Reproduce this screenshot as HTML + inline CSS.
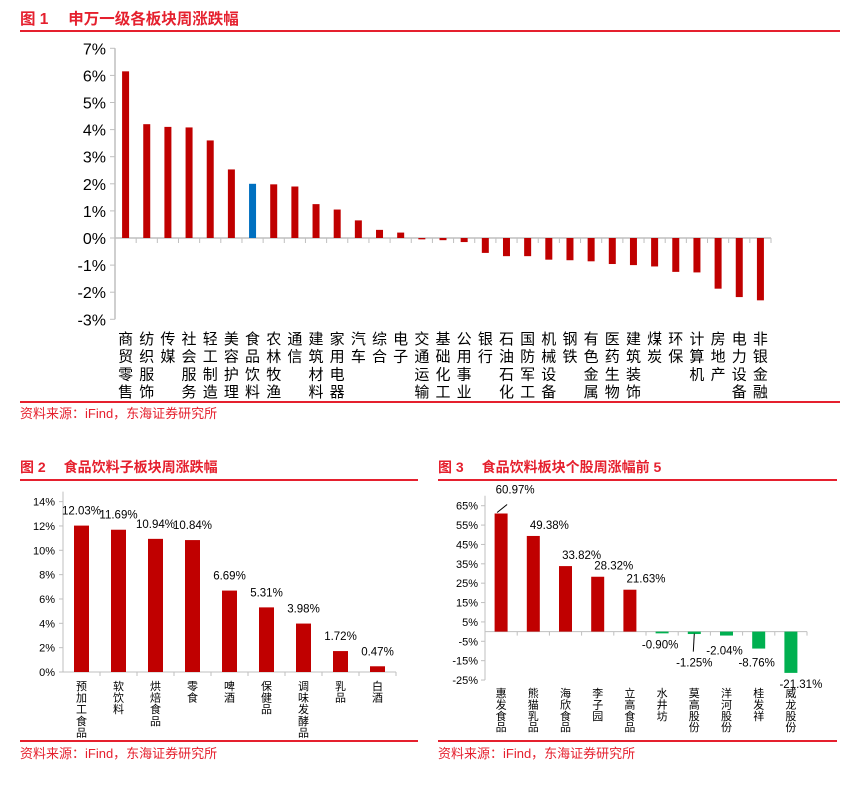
<!DOCTYPE html>
<html><head><meta charset="utf-8">
<style>
html,body{margin:0;padding:0;background:#fff;}
svg{display:block;font-family:"Liberation Sans","Noto Sans CJK SC",sans-serif;}
</style></head>
<body>
<svg id="s" width="861" height="789" viewBox="0 0 861 789" xmlns="http://www.w3.org/2000/svg">
<g>
<text x="20" y="24" font-size="15.5" font-weight="bold" fill="#E5202E">图 1　 申万一级各板块周涨跌幅</text>
<rect x="20" y="30" width="820" height="2" fill="#E5202E"/>
</g>
<rect x="20" y="401" width="820" height="2" fill="#E5202E"/>
<text x="20" y="418" font-size="13" fill="#E5202E">资料来源：iFind，东海证券研究所</text>

<text x="20" y="472" font-size="14" font-weight="bold" fill="#E5202E">图 2　 食品饮料子板块周涨跌幅</text>
<rect x="20" y="479" width="398" height="2" fill="#E5202E"/>
<rect x="20" y="740" width="398" height="2" fill="#E5202E"/>
<text x="20" y="758" font-size="13" fill="#E5202E">资料来源：iFind，东海证券研究所</text>

<text x="438" y="472" font-size="14" font-weight="bold" fill="#E5202E">图 3　 食品饮料板块个股周涨幅前 5</text>
<rect x="438" y="479" width="399" height="2" fill="#E5202E"/>
<rect x="438" y="740" width="399" height="2" fill="#E5202E"/>
<text x="438" y="758" font-size="13" fill="#E5202E">资料来源：iFind，东海证券研究所</text>
<g id="c1"></g>
<g id="c2"></g>
<g id="c3"></g>
</svg>
<script>
const c1Cats=["商贸零售","纺织服饰","传媒","社会服务","轻工制造","美容护理","食品饮料","农林牧渔","通信","建筑材料","家用电器","汽车","综合","电子","交通运输","基础化工","公用事业","银行","石油石化","国防军工","机械设备","钢铁","有色金属","医药生物","建筑装饰","煤炭","环保","计算机","房地产","电力设备","非银金融"];
const c1Vals=[6.15,4.2,4.1,4.08,3.6,2.53,2.0,1.98,1.9,1.25,1.05,0.65,0.3,0.2,-0.05,-0.08,-0.15,-0.55,-0.67,-0.67,-0.8,-0.82,-0.86,-0.96,-1.0,-1.05,-1.25,-1.27,-1.87,-2.18,-2.3];
const c1Ticks=[7,6,5,4,3,2,1,0,-1,-2,-3];
const c2Cats=["预加工食品","软饮料","烘焙食品","零食","啤酒","保健品","调味发酵品","乳品","白酒"];
const c2Vals=[12.03,11.69,10.94,10.84,6.69,5.31,3.98,1.72,0.47];
const c2Ticks=[0,2,4,6,8,10,12,14];
const c3Cats=["惠发食品","熊猫乳品","海欣食品","李子园","立高食品","水井坊","莫高股份","洋河股份","桂发祥","威龙股份"];
const c3Vals=[60.97,49.38,33.82,28.32,21.63,-0.90,-1.25,-2.04,-8.76,-21.31];
const c3Ticks=[65,55,45,35,25,15,5,-5,-15,-25];

const NS="http://www.w3.org/2000/svg";
function mk(p,tag,a){const e=document.createElementNS(NS,tag);for(const k in a)e.setAttribute(k,a[k]);p.appendChild(e);return e;}

// Chart 1
(function(){
const g=document.getElementById('c1');
const x0=115,x1=771,y0=238,pp=27.1;
const y=v=>y0-v*pp;
const bw=(x1-x0)/c1Cats.length;
mk(g,'line',{x1:x0,y1:y(7),x2:x0,y2:y(-3),stroke:'#bfbfbf','stroke-width':1.5});
c1Ticks.forEach(t=>{
 const l=mk(g,'line',{x1:x0-5,y1:y(t),x2:x0,y2:y(t),stroke:'#bfbfbf'});
 
 
 const tx=mk(g,'text',{x:x0-9,y:y(t)+6,'font-size':16,'text-anchor':'end',fill:'#000'});
 tx.textContent=t+'%';
 
 
});
mk(g,'line',{x1:x0,y1:y0,x2:x1,y2:y0,stroke:'#bfbfbf','stroke-width':1.5});
c1Cats.forEach((c,i)=>{
 const cx=x0+bw*(i+0.5),v=c1Vals[i];
 const tk=mk(g,'line',{x1:x0+bw*(i+1),y1:y0,x2:x0+bw*(i+1),y2:y0+5,stroke:'#bfbfbf'});
 
 
 const b=mk(g,'rect',{x:cx-3.5,y:Math.min(y(v),y0),width:7,height:Math.max(Math.abs(y(v)-y0),1),fill:c==='食品饮料'?'#0070C0':'#C00000'});
 
 
 [...c].forEach((ch,j)=>{
  const t=mk(g,'text',{x:cx,y:344+j*17.7,'font-size':15,'text-anchor':'middle',fill:'#000'});
  t.textContent=ch;
  
  
 });
});
})();

// Chart 2
(function(){
const g=document.getElementById('c2');
const x0=63,x1=396,y0=672,pp=12.17;
const y=v=>y0-v*pp;
const bw=(x1-x0)/c2Cats.length;
mk(g,'line',{x1:x0,y1:y(14)-10,x2:x0,y2:y0,stroke:'#bfbfbf'});
c2Ticks.forEach(t=>{
 const l=mk(g,'line',{x1:x0-4,y1:y(t),x2:x0,y2:y(t),stroke:'#bfbfbf'});
 
 
 const tx=mk(g,'text',{x:x0-8,y:y(t)+4,'font-size':11,'text-anchor':'end',fill:'#000'});
 tx.textContent=t+'%';
 
 
});
mk(g,'line',{x1:x0,y1:y0,x2:x1,y2:y0,stroke:'#bfbfbf'});
c2Cats.forEach((c,i)=>{
 const cx=x0+bw*(i+0.5),v=c2Vals[i];
 const tk=mk(g,'line',{x1:x0+bw*(i+1),y1:y0,x2:x0+bw*(i+1),y2:y0+4,stroke:'#bfbfbf'});
 
 
 const b=mk(g,'rect',{x:cx-7.5,y:y(v),width:15,height:y0-y(v),fill:'#C00000'});
 
 
 const lb=mk(g,'text',{x:cx,y:y(v)-11,'font-size':11.5,'text-anchor':'middle',fill:'#000'});
 lb.textContent=v.toFixed(2)+'%';
 
 
 [...c].forEach((ch,j)=>{
  const t=mk(g,'text',{x:cx,y:690+j*11.6,'font-size':11,'text-anchor':'middle',fill:'#000'});
  t.textContent=ch;
  
  
 });
});
})();

// Chart 3
(function(){
const g=document.getElementById('c3');
const x0=485,x1=807,pp=1.937,y0=505.7+65*pp;
const y=v=>y0-v*pp;
const bw=(x1-x0)/c3Cats.length;
mk(g,'line',{x1:x0,y1:y(65)-10,x2:x0,y2:y(-25),stroke:'#bfbfbf'});
c3Ticks.forEach(t=>{
 const l=mk(g,'line',{x1:x0-4,y1:y(t),x2:x0,y2:y(t),stroke:'#bfbfbf'});
 
 
 const tx=mk(g,'text',{x:x0-7,y:y(t)+4,'font-size':11,'text-anchor':'end',fill:'#000'});
 tx.textContent=t+'%';
 
 
});
mk(g,'line',{x1:x0,y1:y0,x2:x1,y2:y0,stroke:'#bfbfbf'});
c3Cats.forEach((c,i)=>{
 const cx=x0+bw*(i+0.5),v=c3Vals[i];
 const tk=mk(g,'line',{x1:x0+bw*(i+1),y1:y0,x2:x0+bw*(i+1),y2:y0+4,stroke:'#bfbfbf'});
 
 
 const b=mk(g,'rect',{x:cx-6.5,y:Math.min(y(v),y0),width:13,height:Math.max(Math.abs(y(v)-y0),1.5),fill:v>=0?'#C00000':'#00B050'});
 
 
 let lx=cx+bw*0.5,ly;
 if(i===0){lx=cx+14;ly=y(v)-20;mk(g,'line',{x1:cx-4,y1:y(v)-1,x2:cx+6,y2:y(v)-9,stroke:'#000'});}
 else if(v>=0){ly=y(v)-7;}
 else if(i===6){lx=cx;ly=y0+35;mk(g,'line',{x1:cx,y1:y0+2,x2:cx-1,y2:y0+20,stroke:'#000'});}
 else if(i===9){lx=cx+10;ly=y(v)+15;}
 else {ly=y(v)+15;if(i===5)ly=y0+17;if(i===7)ly=y0+23;if(i===8)ly=y(v)+18;lx=cx-2;}
 const lb=mk(g,'text',{x:lx,y:ly,'font-size':11.5,'text-anchor':'middle',fill:'#000'});
 lb.textContent=v.toFixed(2)+'%';
 
 
 [...c].forEach((ch,j)=>{
  const t=mk(g,'text',{x:cx,y:697+j*11.4,'font-size':11,'text-anchor':'middle',fill:'#000'});
  t.textContent=ch;
  
  
 });
});
})();
</script>
</body></html>
